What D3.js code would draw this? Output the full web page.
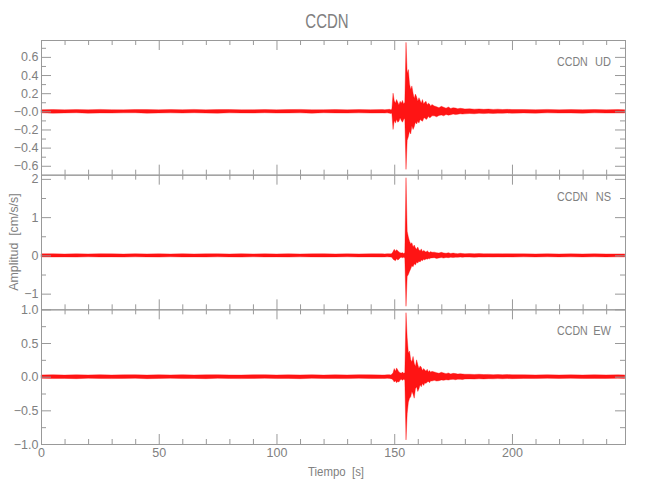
<!DOCTYPE html>
<html><head><meta charset="utf-8">
<script src="https://cdn.jsdelivr.net/npm/d3@7"></script>
<style>
body{margin:0;background:#fff;}
svg text{font-family:"Liberation Sans Narrow","Liberation Sans",sans-serif;fill:#808080;}
</style></head><body>
<svg id="chart" width="650" height="500"></svg>
<script>
// ---- data ----
const stationName = "CCDN";
const xLabel = "Tiempo  [s]";
const yLabel = "Amplitud  [cm/s/s]";
const components = ["UD", "NS", "EW"];

const times = [0,5,10,15,20,25,30,35,40,45,50,55,60,65,70,75,80,85,90,95,100,105,110,115,120,125,130,135,140,145,
  146,147,
  148,148.5,149,149.5,150,150.5,151,151.5,152,152.5,153,153.5,154,154.5,155,155.5,156,156.5,157,157.5,158,158.5,159,159.5,160,160.5,161,161.5,162,162.5,163,163.5,164,164.5,165,165.5,166,
  167,168,169,170,171,172,173,174,175,176,177,178,179,180,
  182,184,186,188,190,192,194,196,198,200,
  205,210,215,220,225,230,235,240,245,
  247.9];

const udMax = [0.018,0.02,0.016,0.019,0.017,0.021,0.018,0.016,0.02,0.019,0.017,0.02,0.018,0.021,0.016,0.019,0.02,0.017,0.018,0.02,0.016,0.019,0.021,0.017,0.018,0.02,0.016,0.019,0.018,0.019,0.018,0.02,
  0.022,0.018,0.024,0.2,0.12,0.09,0.13,0.1,0.07,0.11,0.09,0.12,0.08,0.1,0.76,0.42,0.46,0.3,0.24,0.28,0.2,0.14,0.19,0.16,0.11,0.15,0.12,0.09,0.13,0.08,0.1,0.11,0.07,0.09,0.08,0.055,0.075,
  0.06,0.05,0.04,0.055,0.045,0.035,0.048,0.032,0.04,0.036,0.028,0.034,0.03,0.026,
  0.028,0.024,0.027,0.022,0.025,0.021,0.024,0.02,0.022,0.02,
  0.02,0.018,0.021,0.017,0.019,0.018,0.02,0.017,0.019,
  0.018];
const udMin = [-0.017,-0.02,-0.018,-0.016,-0.02,-0.018,-0.019,-0.017,-0.016,-0.02,-0.018,-0.017,-0.019,-0.016,-0.019,-0.02,-0.017,-0.018,-0.019,-0.016,-0.019,-0.018,-0.017,-0.02,-0.016,-0.018,-0.019,-0.017,-0.019,-0.018,-0.019,-0.017,
  -0.02,-0.024,-0.022,-0.2,-0.1,-0.13,-0.09,-0.12,-0.11,-0.07,-0.1,-0.12,-0.09,-0.08,-0.64,-0.32,-0.28,-0.22,-0.25,-0.16,-0.2,-0.17,-0.12,-0.14,-0.11,-0.13,-0.09,-0.1,-0.11,-0.08,-0.07,-0.09,-0.08,-0.055,-0.07,-0.065,-0.05,
  -0.05,-0.06,-0.045,-0.04,-0.05,-0.035,-0.042,-0.038,-0.03,-0.036,-0.032,-0.027,-0.03,-0.028,
  -0.024,-0.027,-0.022,-0.025,-0.021,-0.023,-0.02,-0.022,-0.019,-0.021,
  -0.018,-0.02,-0.017,-0.019,-0.018,-0.02,-0.017,-0.019,-0.018,
  -0.018];

const nsMax = [0.04,0.043,0.037,0.042,0.038,0.044,0.04,0.036,0.043,0.039,0.041,0.037,0.044,0.038,0.04,0.042,0.037,0.044,0.039,0.041,0.038,0.043,0.037,0.04,0.044,0.038,0.041,0.039,0.042,0.04,0.039,0.043,
  0.042,0.04,0.05,0.1,0.16,0.11,0.15,0.12,0.09,0.07,0.06,0.07,0.05,0.07,2.03,0.63,0.48,0.37,0.3,0.33,0.22,0.27,0.2,0.16,0.22,0.14,0.12,0.17,0.1,0.13,0.11,0.08,0.12,0.09,0.075,0.1,0.08,
  0.085,0.07,0.06,0.08,0.065,0.055,0.07,0.05,0.06,0.052,0.045,0.055,0.048,0.044,
  0.048,0.044,0.047,0.042,0.045,0.041,0.044,0.04,0.043,0.04,
  0.04,0.038,0.042,0.037,0.04,0.038,0.041,0.037,0.039,
  0.039];
const nsMin = [-0.039,-0.042,-0.04,-0.044,-0.037,-0.041,-0.039,-0.043,-0.038,-0.04,-0.044,-0.037,-0.041,-0.039,-0.042,-0.038,-0.04,-0.044,-0.037,-0.041,-0.039,-0.043,-0.038,-0.04,-0.042,-0.039,-0.037,-0.041,-0.039,-0.042,-0.04,-0.038,
  -0.04,-0.045,-0.05,-0.1,-0.12,-0.14,-0.09,-0.12,-0.1,-0.06,-0.05,-0.06,-0.05,-0.07,-1.33,-0.55,-0.5,-0.42,-0.35,-0.27,-0.3,-0.22,-0.25,-0.18,-0.2,-0.15,-0.17,-0.12,-0.14,-0.1,-0.12,-0.09,-0.1,-0.08,-0.09,-0.07,-0.065,
  -0.06,-0.08,-0.065,-0.058,-0.07,-0.052,-0.06,-0.05,-0.058,-0.047,-0.05,-0.045,-0.048,-0.043,
  -0.043,-0.047,-0.042,-0.045,-0.041,-0.044,-0.04,-0.043,-0.039,-0.042,
  -0.038,-0.041,-0.037,-0.04,-0.038,-0.041,-0.037,-0.04,-0.038,
  -0.039];

const ewMax = [0.026,0.029,0.024,0.028,0.025,0.03,0.025,0.027,0.029,0.024,0.028,0.026,0.03,0.025,0.027,0.029,0.026,0.024,0.028,0.03,0.025,0.027,0.026,0.029,0.024,0.028,0.026,0.03,0.027,0.025,0.026,0.028,
  0.03,0.026,0.035,0.06,0.12,0.08,0.13,0.1,0.07,0.06,0.05,0.07,0.05,0.06,0.95,0.58,0.35,0.38,0.25,0.22,0.3,0.2,0.15,0.25,0.18,0.12,0.16,0.14,0.09,0.12,0.1,0.08,0.11,0.07,0.09,0.065,0.08,
  0.07,0.06,0.05,0.065,0.055,0.045,0.055,0.04,0.05,0.046,0.038,0.042,0.04,0.036,
  0.036,0.033,0.036,0.031,0.034,0.03,0.032,0.029,0.031,0.029,
  0.028,0.026,0.029,0.025,0.027,0.025,0.028,0.026,0.027,
  0.026];
const ewMin = [-0.025,-0.028,-0.026,-0.03,-0.024,-0.027,-0.029,-0.026,-0.025,-0.03,-0.027,-0.024,-0.028,-0.026,-0.03,-0.025,-0.027,-0.029,-0.026,-0.024,-0.028,-0.026,-0.03,-0.025,-0.027,-0.026,-0.029,-0.024,-0.028,-0.026,-0.027,-0.025,
  -0.026,-0.03,-0.035,-0.05,-0.08,-0.06,-0.09,-0.07,-0.08,-0.05,-0.04,-0.055,-0.04,-0.05,-0.94,-0.55,-0.38,-0.32,-0.3,-0.22,-0.26,-0.32,-0.18,-0.15,-0.22,-0.18,-0.12,-0.15,-0.1,-0.13,-0.09,-0.1,-0.08,-0.07,-0.09,-0.06,-0.065,
  -0.055,-0.065,-0.06,-0.048,-0.055,-0.045,-0.05,-0.042,-0.04,-0.046,-0.037,-0.04,-0.043,-0.035,
  -0.033,-0.036,-0.031,-0.034,-0.03,-0.032,-0.029,-0.031,-0.028,-0.03,
  -0.026,-0.028,-0.025,-0.027,-0.025,-0.028,-0.026,-0.027,-0.025,
  -0.026];

// axis ranges and ticks
const xDomain = [0, 248];
const xMajor = [0, 50, 100, 150, 200];
const xMajorLabels = ["0", "50", "100", "150", "200"];
const xMinor = [10,20,30,40,60,70,80,90,110,120,130,140,160,170,180,190,210,220,230,240];

const udDomain = [-0.698, 0.786];
const udMajor = [0.6, 0.4, 0.2, 0, -0.2, -0.4, -0.6];
const udLabels = ["0.6", "0.4", "0.2", "\u22120.0", "\u22120.2", "\u22120.4", "\u22120.6"];
const udMinor = [0.7, 0.5, 0.3, 0.1, -0.1, -0.3, -0.5];

const nsDomain = [-1.41, 2.11];
const nsMajor = [2, 1, 0, -1];
const nsLabels = ["2", "1", "0", "\u22121"];
const nsMinor = [1.5, 0.5, -0.5];

const ewDomain = [-1.0, 1.0];
const ewMajor = [1, 0.5, 0, -0.5, -1];
const ewLabels = ["1.0", "0.5", "0.0", "\u22120.5", "\u22121.0"];
const ewMinor = [0.75, 0.25, -0.25, -0.75];

// ---- drawing ----
const L = 41, R = 625, T = 40, B = 444;
const ph = (B - T) / 3;
const axisColor = "#999";
const textColor = "#808080";
const traceColor = "#ff0000";

const svg = d3.select("#chart");
const x = d3.scaleLinear().domain(xDomain).range([L, R]);

const panels = [
  {comp: components[0], hi: udMax, lo: udMin, domain: udDomain, major: udMajor, labels: udLabels, minor: udMinor},
  {comp: components[1], hi: nsMax, lo: nsMin, domain: nsDomain, major: nsMajor, labels: nsLabels, minor: nsMinor},
  {comp: components[2], hi: ewMax, lo: ewMin, domain: ewDomain, major: ewMajor, labels: ewLabels, minor: ewMinor}
];

function styleAxis(g) {
  g.select(".domain").remove();
  g.attr("font-family", null).attr("font-size", null);
  g.selectAll(".tick line").attr("stroke", axisColor);
  g.selectAll(".tick text").attr("fill", textColor).attr("font-size", 12.5);
}

panels.forEach((p, i) => {
  const top = T + i * ph, bot = T + (i + 1) * ph;
  const y = d3.scaleLinear().domain(p.domain).range([bot, top]);
  const g = svg.append("g");

  // trace envelope
  const rows = times.map((t, k) => ({t, hi: p.hi[k], lo: p.lo[k]}));
  const area = d3.area().x(d => x(d.t)).y0(d => y(d.lo)).y1(d => y(d.hi));
  g.append("path").datum(rows).attr("d", area)
    .attr("fill", traceColor).attr("fill-opacity", 0.92)
    .attr("stroke", traceColor).attr("stroke-width", 0.35);

  // frame
  g.append("rect").attr("x", L + 0.5).attr("y", top + 0.5)
    .attr("width", R - L).attr("height", bot - top)
    .attr("fill", "none").attr("stroke", axisColor);

  // left axis (labels + inward ticks)
  g.append("g").attr("transform", `translate(${L},0)`)
    .call(d3.axisLeft(y).tickValues(p.major).tickSize(-10).tickPadding(2.5)
      .tickFormat((d, k) => p.labels[k])).call(styleAxis);
  g.append("g").attr("transform", `translate(${L},0)`)
    .call(d3.axisLeft(y).tickValues(p.minor).tickSize(-5).tickFormat("")).call(styleAxis);
  // right axis
  g.append("g").attr("transform", `translate(${R},0)`)
    .call(d3.axisRight(y).tickValues(p.major).tickSize(-10).tickFormat("")).call(styleAxis);
  g.append("g").attr("transform", `translate(${R},0)`)
    .call(d3.axisRight(y).tickValues(p.minor).tickSize(-5).tickFormat("")).call(styleAxis);
  // top axis
  g.append("g").attr("transform", `translate(0,${top})`)
    .call(d3.axisTop(x).tickValues(xMajor).tickSize(-10).tickFormat("")).call(styleAxis);
  g.append("g").attr("transform", `translate(0,${top})`)
    .call(d3.axisTop(x).tickValues(xMinor).tickSize(-5).tickFormat("")).call(styleAxis);
  // bottom axis
  const last = i === panels.length - 1;
  g.append("g").attr("transform", `translate(0,${bot})`)
    .call(d3.axisBottom(x).tickValues(xMajor).tickSize(-10).tickPadding(4.5)
      .tickFormat((d, k) => last ? xMajorLabels[k] : "")).call(styleAxis);
  g.append("g").attr("transform", `translate(0,${bot})`)
    .call(d3.axisBottom(x).tickValues(xMinor).tickSize(-5).tickFormat("")).call(styleAxis);

  // panel label
  g.append("text").attr("transform", `translate(557,${top + 26}) scale(0.82,1)`)
    .attr("font-size", 13).text(stationName);
  g.append("text").attr("transform", `translate(611,${top + 26}) scale(0.85,1)`)
    .attr("font-size", 13).attr("text-anchor", "end").text(p.comp);
});

// title and axis titles
svg.append("text").attr("transform", "translate(327,28) scale(0.75,1)")
  .attr("text-anchor", "middle").attr("font-size", 20).text(stationName);
svg.append("text").attr("transform", "translate(336,476) scale(0.88,1)")
  .attr("text-anchor", "middle").attr("font-size", 13)
  .style("white-space", "pre").text(xLabel);
svg.append("text").attr("transform", `translate(18,${(T + B) / 2}) rotate(-90) scale(0.95,1)`)
  .attr("text-anchor", "middle").attr("font-size", 13)
  .style("white-space", "pre").text(yLabel);
</script>
</body></html>
